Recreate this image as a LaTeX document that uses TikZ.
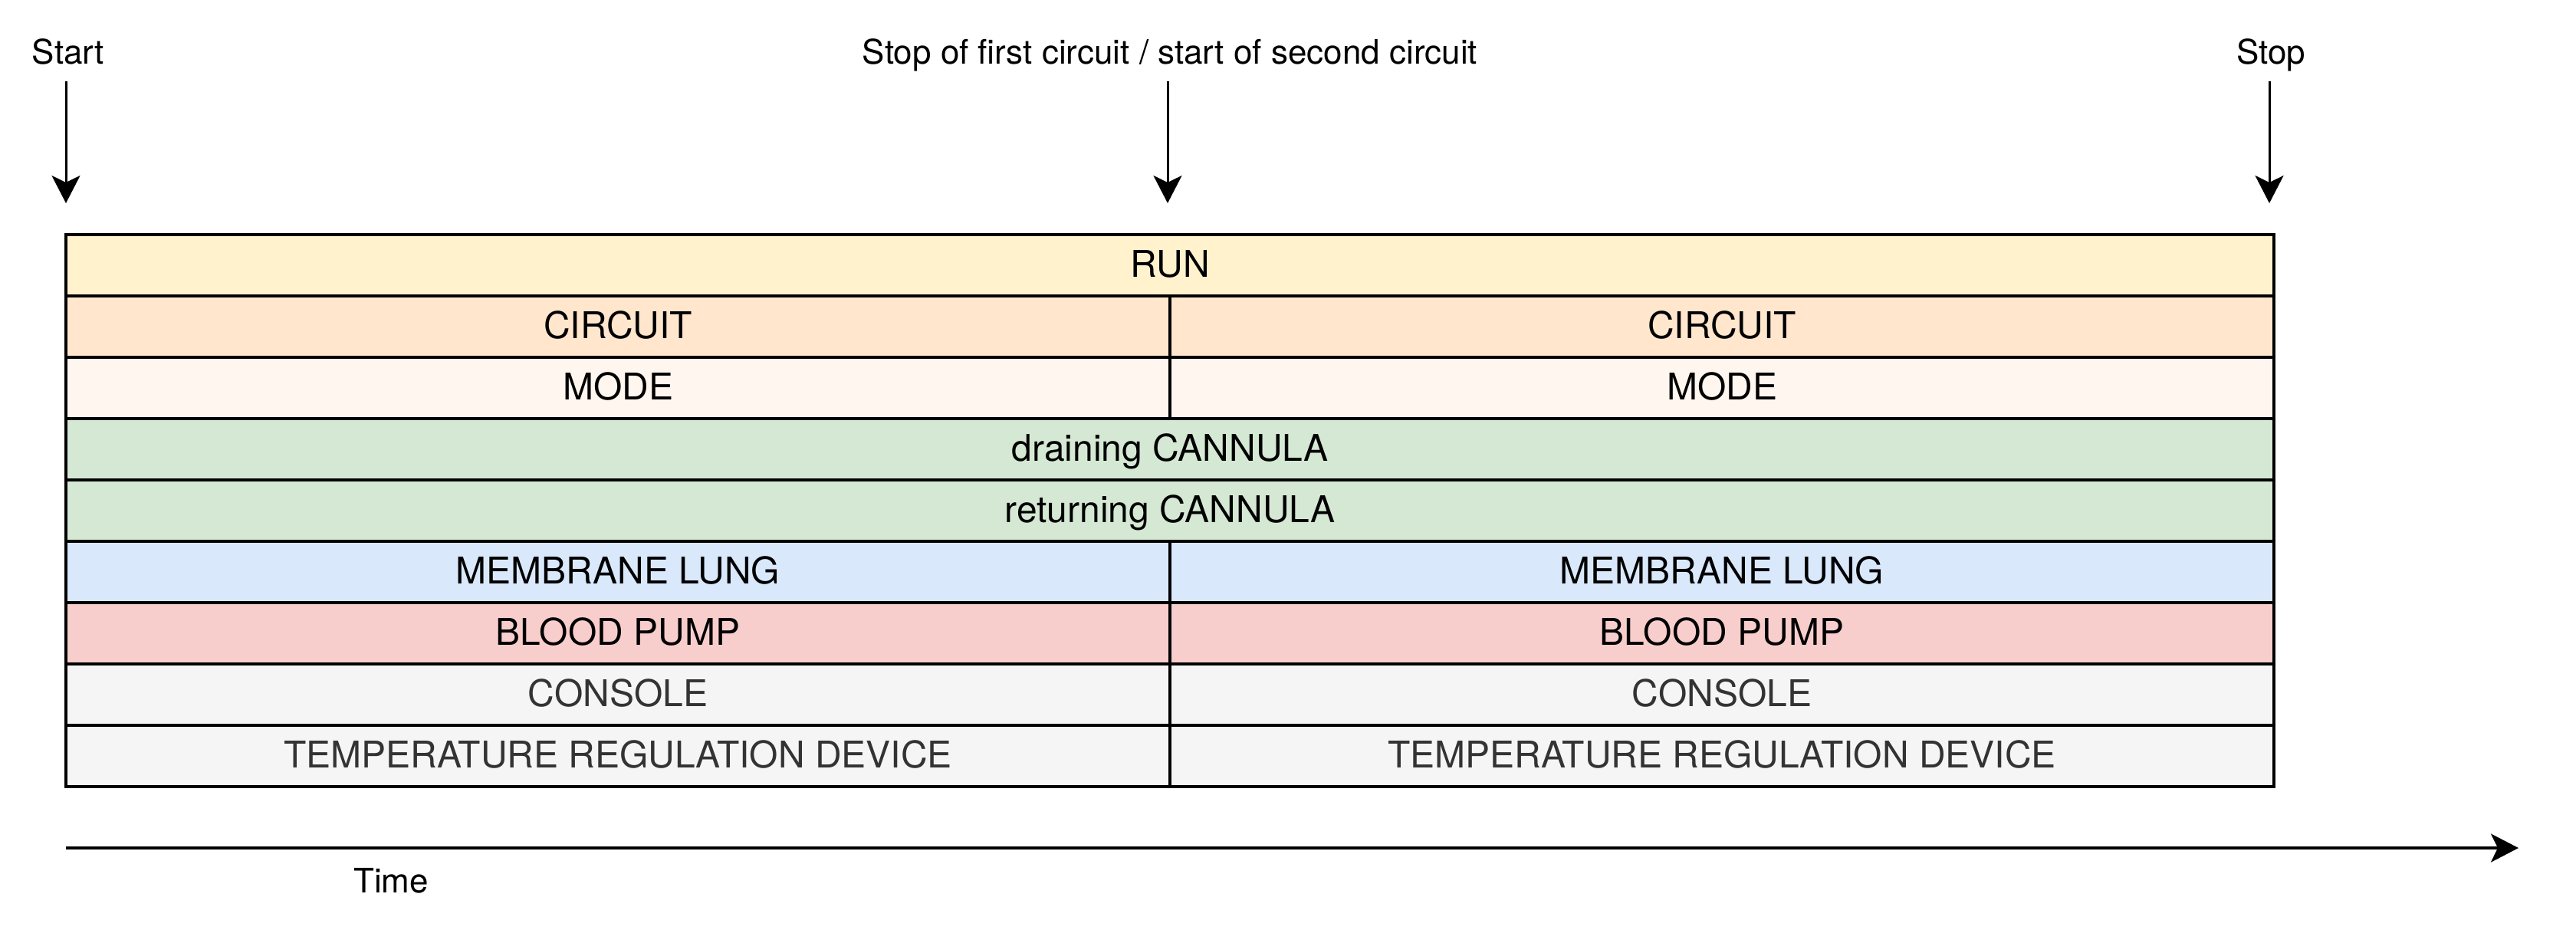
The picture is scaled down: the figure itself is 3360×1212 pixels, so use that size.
\documentclass[tikz,border=0pt]{standalone}
\usepackage{fontspec}
\setmainfont{TeX Gyre Heros}
\usepackage{tikz}
\usetikzlibrary{arrows.meta,positioning}
\definecolor{runc}{HTML}{FFF2CC}
\definecolor{circc}{HTML}{FFE6CC}
\definecolor{modec}{HTML}{FFF7EF}
\definecolor{cannc}{HTML}{D5E8D4}
\definecolor{lungc}{HTML}{DAE8FC}
\definecolor{pumpc}{HTML}{F8CECC}
\definecolor{devc}{HTML}{F5F5F5}
\definecolor{devtext}{HTML}{333333}

\begin{document}
\begin{tikzpicture}[x=0.3pt,y=-0.3pt,
        >={Stealth[length=10.8pt,width=11.1pt,inset=2.7pt]},
        cell/.style={draw,line width=1.2pt,minimum height=24pt,inner sep=0pt,outer sep=0pt,
            font=\fontsize{14.4}{17}\selectfont,text height=10.3pt,text depth=1.2pt},
        full/.style={cell,minimum width=864pt},
        half/.style={cell,minimum width=432pt},
        device/.style={half,fill=devc,text=devtext},
        lbl/.style={inner sep=0pt,anchor=base,font=\fontsize{13.2}{15}\selectfont},
        pointer/.style={->,line width=0.9pt}]
    \useasboundingbox (0,0) rectangle (3360,1212);
    % rows of the table
    \node[full,fill=runc] (run) at (1526,346) {RUN};
    \node[half,fill=circc,below right=0pt and 0pt of run.south west] (circ1) {CIRCUIT};
    \node[half,fill=circc,right=0pt of circ1] (circ2) {CIRCUIT};
    \node[half,fill=modec,below=0pt of circ1] (mode1) {MODE};
    \node[half,fill=modec,below=0pt of circ2] (mode2) {MODE};
    \node[full,fill=cannc,below right=0pt and 0pt of mode1.south west] (drain) {draining CANNULA};
    \node[full,fill=cannc,below=0pt of drain] (return) {returning CANNULA};
    \node[half,fill=lungc,below right=0pt and 0pt of return.south west] (lung1) {MEMBRANE LUNG};
    \node[half,fill=lungc,right=0pt of lung1] (lung2) {MEMBRANE LUNG};
    \node[half,fill=pumpc,below=0pt of lung1] (pump1) {BLOOD PUMP};
    \node[half,fill=pumpc,below=0pt of lung2] (pump2) {BLOOD PUMP};
    \node[device,below=0pt of pump1] (cons1) {CONSOLE};
    \node[device,below=0pt of pump2] (cons2) {CONSOLE};
    \node[device,below=0pt of cons1] (temp1) {TEMPERATURE REGULATION DEVICE};
    \node[device,below=0pt of cons2] (temp2) {TEMPERATURE REGULATION DEVICE};
    % markers above
    \node[lbl] (start) at (89,83) {Start};
    \node[lbl] (switch) at (1526,83) {Stop of first circuit / start of second circuit};
    \node[lbl] (stop) at (2962,83) {Stop};
    \coordinate (startTip) at (86,265);
    \coordinate (switchTip) at (1523,265);
    \coordinate (stopTip) at (2960,265);
    \draw[pointer] (startTip |- 0,106) -- (startTip);
    \draw[pointer] (switchTip |- 0,106) -- (switchTip);
    \draw[pointer] (stopTip |- 0,106) -- (stopTip);
    % time axis
    \coordinate (axisStart) at (86,1106);
    \coordinate (axisEnd) at (3285,1106);
    \draw[->,line width=1.2pt] (axisStart) -- (axisEnd);
    \node[lbl] (time) at (510,1164) {Time};
\end{tikzpicture}
\end{document}
